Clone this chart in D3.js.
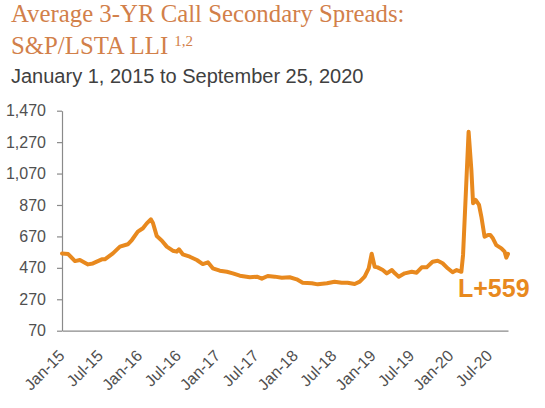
<!DOCTYPE html>
<html lang="en">
  <head>
    <meta charset="utf-8">
    <title>Average 3-YR Call Secondary Spreads</title>
    <script src="https://d3js.org/d3.v7.js"></script>
    <style>
      body { margin: 0; background: #fff; }
      text { font-family: Arial, "Liberation Sans", sans-serif; }
      .title { font-family: "Times New Roman", "Liberation Serif", serif; fill: #D2804A; }
    </style>
  </head>
  <body>
    <script type="text/javascript">
      // data (secondary spread, bps)
      var dates = [
        "2015-01-01","2015-01-30","2015-03-03","2015-03-26","2015-05-03","2015-05-26",
        "2015-07-07","2015-07-21","2015-08-28","2015-09-30","2015-11-06","2015-11-25",
        "2015-12-23","2016-01-16","2016-02-03","2016-02-22","2016-03-03","2016-03-21",
        "2016-04-14","2016-05-07","2016-06-04","2016-06-23","2016-07-03","2016-07-21",
        "2016-08-23","2016-09-25","2016-10-23","2016-11-16","2016-12-09","2017-01-11",
        "2017-02-13","2017-03-13","2017-04-15","2017-06-01","2017-07-04","2017-07-27",
        "2017-08-24","2017-09-26","2017-10-29","2017-12-05","2018-01-07","2018-02-04",
        "2018-03-19","2018-04-16","2018-05-29","2018-07-04","2018-08-06","2018-09-03",
        "2018-10-06","2018-10-30","2018-11-22","2018-12-11","2018-12-25","2019-01-08",
        "2019-01-22","2019-02-15","2019-03-06","2019-03-30","2019-04-13","2019-05-01",
        "2019-05-29","2019-07-01","2019-07-24","2019-08-17","2019-09-09","2019-10-07",
        "2019-10-31","2019-11-23","2019-12-17","2020-01-09","2020-01-28","2020-02-19",
        "2020-02-27","2020-03-24","2020-04-06","2020-04-14","2020-04-26","2020-05-12",
        "2020-05-23","2020-06-07","2020-06-23","2020-07-04","2020-07-16","2020-08-01",
        "2020-08-25","2020-09-09","2020-09-17","2020-09-25"
      ];
      var spreads = [
        562, 558, 513, 520, 492, 498,
        524, 524, 562, 605, 620, 647,
        700, 722, 753, 779, 755, 672,
        643, 605, 579, 573, 588, 556,
        541, 520, 494, 505, 467, 452,
        445, 435, 420, 410, 414, 401,
        418, 414, 407, 410, 397, 375,
        372, 365, 372, 382, 375, 375,
        367, 382, 414, 467, 560, 477,
        473, 456, 435, 456, 435, 414,
        435, 445, 439, 473, 473, 509,
        515, 499, 467, 442, 456, 445,
        552, 1336, 1093, 881, 902, 870,
        795, 668, 679, 679, 658, 615,
        594, 573, 535, 559
      ];
      var yTicks = [70, 270, 470, 670, 870, 1070, 1270, 1470];
      var xTickDates = [
        "2015-01-01","2015-07-01","2016-01-01","2016-07-01","2017-01-01","2017-07-01",
        "2018-01-01","2018-07-01","2019-01-01","2019-07-01","2020-01-01","2020-07-01"
      ];
      var lastLabel = "L+559";

      var w = 545;
      var h = 408;
      var margin = {top: 110.7, right: 37, bottom: 77.3, left: 62};
      var lineColor = "#E8891E";

      var parseTime = d3.timeParse("%Y-%m-%d");
      var data = dates.map(function (d, i) {
        return {date: parseTime(d), value: spreads[i]};
      });

      var svg = d3.select("body")
          .append("svg")
          .attr("width", w)
          .attr("height", h);

      // titles
      svg.append("text")
          .attr("class", "title")
          .attr("x", 11)
          .attr("y", 22)
          .style("font-size", "24.8px")
          .text("Average 3-YR Call Secondary Spreads:");

      var t2 = svg.append("text")
          .attr("class", "title")
          .attr("x", 11)
          .attr("y", 54)
          .style("font-size", "24.8px");
      t2.append("tspan").text("S&P/LSTA LLI ");
      t2.append("tspan")
          .attr("dy", -8)
          .style("font-size", "15px")
          .text("1,2");

      svg.append("text")
          .attr("x", 11)
          .attr("y", 83)
          .style("font-size", "20px")
          .attr("fill", "#404040")
          .text("January 1, 2015 to September 25, 2020");

      // scales
      var xScale = d3.scaleTime()
          .domain([parseTime("2015-01-01"), parseTime("2020-09-25")])
          .range([margin.left, w - margin.right]);

      var yScale = d3.scaleLinear()
          .domain([70, 1470])
          .range([h - margin.bottom, margin.top]);

      // axes
      var yAxis = d3.axisLeft(yScale)
          .tickValues(yTicks)
          .tickFormat(d3.format(","))
          .tickSizeInner(5)
          .tickSizeOuter(0)
          .tickPadding(11);

      var xAxis = d3.axisBottom(xScale)
          .tickValues(xTickDates.map(parseTime))
          .tickFormat(d3.timeFormat("%b-%y"))
          .tickSize(0)
          .tickSizeOuter(0);

      var gy = svg.append("g")
          .attr("transform", `translate(${margin.left},0)`)
          .call(yAxis);
      gy.selectAll("path, line").attr("stroke", "#8a8a8a").attr("stroke-width", 1.2);
      gy.selectAll("text")
          .attr("fill", "#505050")
          .style("font-size", "16px")
          .style("font-family", "Arial, 'Liberation Sans', sans-serif");

      var gx = svg.append("g")
          .attr("transform", `translate(0,${h - margin.bottom})`)
          .call(xAxis);
      gx.select(".domain").attr("stroke", "#8a8a8a").attr("stroke-width", 1.2);
      gx.selectAll("text")
          .attr("x", 0)
          .attr("y", 0)
          .attr("dy", 0)
          .attr("text-anchor", "end")
          .attr("transform", "translate(3,26) rotate(-45)")
          .attr("fill", "#505050")
          .style("font-size", "16px")
          .style("font-family", "Arial, 'Liberation Sans', sans-serif");

      // spread line
      var line = d3.line()
          .x(d => xScale(d.date))
          .y(d => yScale(d.value));

      svg.append("path")
          .datum(data)
          .attr("fill", "none")
          .attr("stroke", lineColor)
          .attr("stroke-width", 4)
          .attr("stroke-linejoin", "round")
          .attr("stroke-linecap", "round")
          .attr("d", line);

      // end label
      svg.append("text")
          .attr("x", 458)
          .attr("y", 297)
          .attr("fill", lineColor)
          .style("font-size", "25px")
          .style("font-weight", "bold")
          .text(lastLabel);
    </script>
  </body>
</html>
